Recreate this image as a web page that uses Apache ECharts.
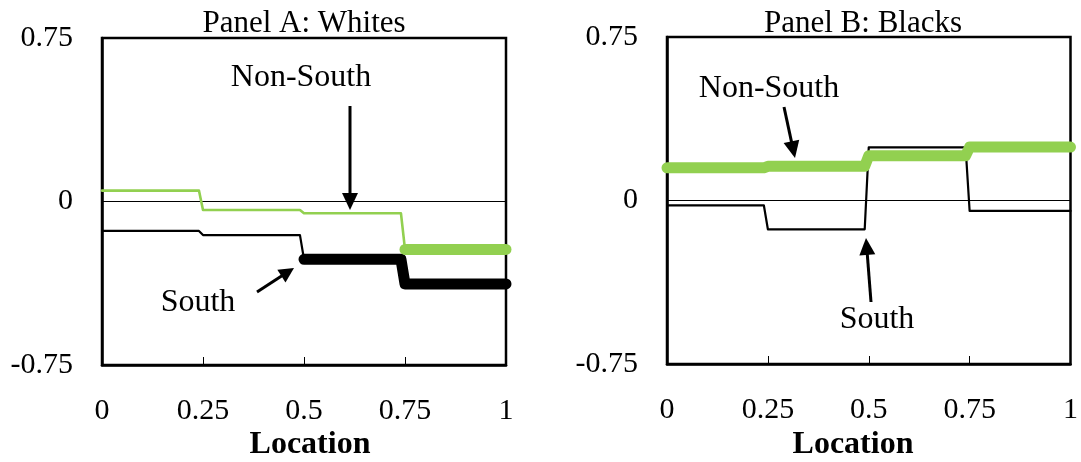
<!DOCTYPE html>
<html>
<head>
<meta charset="utf-8">
<script src="https://cdn.jsdelivr.net/npm/echarts@6/dist/echarts.min.js"></script>
<style>
html,body{margin:0;padding:0;background:#fff;}
#c{width:1081px;height:462px;}
</style>
</head>
<body>
<div id="c"></div>
<script>
// ---- data ----
const location_ = [0, 0.24, 0.25, 0.49, 0.5, 0.74, 0.75, 1];
const whitesNonSouth = [0.05, 0.05, -0.039, -0.039, -0.054, -0.054, -0.22, -0.22];
const whitesSouth = [-0.135, -0.135, -0.154, -0.154, -0.265, -0.265, -0.378, -0.378];
const blacksNonSouth = [0.15, 0.15, 0.157, 0.157, 0.205, 0.205, 0.245, 0.245];
const blacksSouth = [-0.022, -0.022, -0.132, -0.132, 0.244, 0.244, -0.048, -0.048];
const xTicks = [0, 0.25, 0.5, 0.75, 1];
const yTicks = [-0.75, 0, 0.75];
const panelTitles = ['Panel A: Whites', 'Panel B: Blacks'];
const xAxisName = 'Location';
const seriesNames = ['Non-South', 'South'];

const FONT = '"Liberation Serif", "Times New Roman", serif';
const GREEN = '#92D050';

function pts(vals, from, to) {
  const out = [];
  for (let i = from; i <= to; i++) out.push([location_[i], vals[i]]);
  return out;
}
function line(name, data, xi, color, width, z) {
  return {
    name: name, type: 'line', xAxisIndex: xi, yAxisIndex: xi, data: data,
    showSymbol: false, symbol: 'none', z: z, silent: true,
    lineStyle: {color: color, width: width, cap: 'round', join: 'round'}
  };
}
function xAx(gi) {
  return {
    type: 'value', gridIndex: gi, min: xTicks[0], max: xTicks[xTicks.length - 1],
    interval: xTicks[1] - xTicks[0],
    axisLine: {show: true, onZero: false, lineStyle: {color: '#000', width: 2.5}},
    axisTick: {show: true, inside: true, length: 8, lineStyle: {color: '#000', width: 1}},
    axisLabel: {fontSize: 30, fontFamily: FONT, color: '#000', margin: 31},
    splitLine: {show: false}
  };
}
function yAx(gi) {
  return {
    type: 'value', gridIndex: gi, min: yTicks[0], max: yTicks[yTicks.length - 1],
    interval: yTicks[1] - yTicks[0],
    axisLine: {show: true, lineStyle: {color: '#000', width: 2.5}},
    axisTick: {show: false},
    axisLabel: {fontSize: 30, fontFamily: FONT, color: '#000', margin: 29},
    splitLine: {show: true, lineStyle: {color: '#000', width: 1}}
  };
}
function arrow(x1, y1, x2, y2, head, hw) {
  const dx = x2 - x1, dy = y2 - y1, L = Math.sqrt(dx * dx + dy * dy);
  const ux = dx / L, uy = dy / L, px = -uy, py = ux;
  const bx = x2 - ux * head, by = y2 - uy * head;
  return [
    {type: 'line', shape: {x1: x1, y1: y1, x2: bx + ux * 2, y2: by + uy * 2},
     style: {stroke: '#000', lineWidth: 3}, z: 50},
    {type: 'polygon', shape: {points: [[x2, y2], [bx + px * hw, by + py * hw], [bx - px * hw, by - py * hw]]},
     style: {fill: '#000'}, z: 50}
  ];
}
function txt(x, y, s, size, bold) {
  return {type: 'text', x: x, y: y, z: 60,
    style: {text: s, fill: '#000', font: (bold ? 'bold ' : '') + size + 'px ' + FONT,
      textAlign: 'center', textVerticalAlign: 'middle'}};
}

const chart = echarts.init(document.getElementById('c'), null, {renderer: 'canvas'});
const option = {
  animation: false,
  backgroundColor: '#fff',
  grid: [
    {left: 102, top: 38, width: 404, height: 327, show: true, borderColor: '#000', borderWidth: 2.5, containLabel: false},
    {left: 667, top: 37, width: 405, height: 327, show: true, borderColor: '#000', borderWidth: 2.5, containLabel: false}
  ],
  xAxis: [xAx(0), xAx(1)],
  yAxis: [yAx(0), yAx(1)],
  series: [
    line(seriesNames[1], pts(whitesSouth, 0, 4), 0, '#000', 2.2, 3),
    line(seriesNames[1], pts(whitesSouth, 4, 7), 0, '#000', 11, 4),
    line(seriesNames[0], pts(whitesNonSouth, 0, 6), 0, GREEN, 2.6, 5),
    line(seriesNames[0], pts(whitesNonSouth, 6, 7), 0, GREEN, 11, 6),
    line(seriesNames[1], pts(blacksSouth, 0, 7), 1, '#000', 2.2, 3),
    line(seriesNames[0], pts(blacksNonSouth, 0, 7), 1, GREEN, 11, 5)
  ],
  graphic: [].concat(
    [txt(304, 24, panelTitles[0], 31), txt(863, 24, panelTitles[1], 31),
     txt(310, 445, xAxisName, 32, true), txt(853, 445, xAxisName, 32, true),
     txt(301, 78, seriesNames[0], 32), txt(198, 303, seriesNames[1], 32),
     txt(769, 89, seriesNames[0], 32), txt(877, 320, seriesNames[1], 32)],
    arrow(350, 106, 350, 210, 17, 8),
    arrow(257, 292, 294, 268, 15, 7.5),
    arrow(784, 107, 795, 158, 17, 8),
    arrow(871, 302, 866, 238, 17, 8)
  )
};
chart.setOption(option);
</script>
</body>
</html>
